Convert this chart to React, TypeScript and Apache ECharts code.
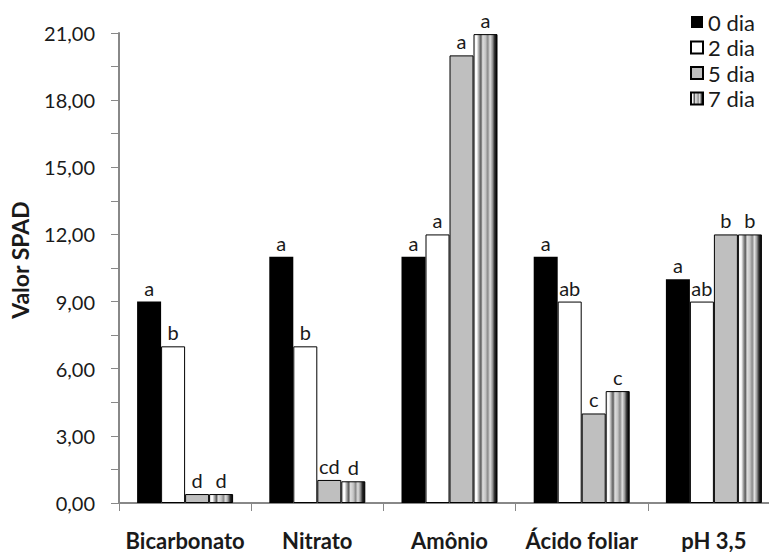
import React, { useEffect, useRef } from "react";
import * as echarts from "echarts";

const categories = ["Bicarbonato", "Nitrato", "Amônio", "Ácido foliar", "pH 3,5"];
const seriesNames = ["0 dia", "2 dia", "5 dia", "7 dia"];
const dia0 = [9, 11, 11, 11, 10];
const dia2 = [7, 7, 12, 9, 9];
const dia5 = [0.4, 1.03, 20, 4, 12];
const dia7 = [0.4, 0.97, 20.95, 5, 12];
const letters0 = ["a", "a", "a", "a", "a"];
const letters2 = ["b", "b", "a", "ab", "ab"];
const letters5 = ["d", "cd", "a", "c", "b"];
const letters7 = ["d", "d", "a", "c", "b"];

const FONT = "Lato, 'Open Sans', sans-serif";

const stripe = new echarts.graphic.LinearGradient(0, 0, 1, 0, [
  { offset: 0, color: "#f2f2f2" },
  { offset: 0.12, color: "#ffffff" },
  { offset: 0.22, color: "#a0a0a0" },
  { offset: 0.3, color: "#5a5a5a" },
  { offset: 0.38, color: "#dedede" },
  { offset: 0.5, color: "#c4c4c4" },
  { offset: 0.6, color: "#8a8a8a" },
  { offset: 0.7, color: "#e0e0e0" },
  { offset: 0.8, color: "#9a9a9a" },
  { offset: 0.9, color: "#2a2a2a" },
  { offset: 1, color: "#000000" },
]);

export default function App() {
  const ref = useRef<HTMLDivElement>(null);
  useEffect(() => {
    if (!ref.current) return;
    const chart = echarts.init(ref.current, undefined, { renderer: "svg" });
    const mk = (
      name: string,
      data: number[],
      letters: string[],
      color: any,
      border: boolean
    ) => ({
      name,
      type: "bar",
      data,
      barWidth: 24,
      barGap: "0%",
      itemStyle: {
        color,
        borderColor: "#000",
        borderWidth: border ? 1 : 0,
      },
      label: {
        show: true,
        position: "top",
        distance: 4,
        fontFamily: FONT,
        fontSize: 20,
        color: "#1a1a1a",
        formatter: (p: any) => letters[p.dataIndex],
      },
    });
    chart.setOption({
      animation: false,
      backgroundColor: "#fff",
      grid: { left: 112, right: 0, top: 33, bottom: 49, containLabel: false },
      legend: {
        orient: "vertical",
        left: 690,
        top: 11,
        padding: 0,
        itemWidth: 12,
        itemHeight: 12,
        itemGap: 3.5,
        icon: "rect",
        data: seriesNames,
        textStyle: { fontFamily: FONT, fontSize: 22, color: "#1a1a1a", padding: [0, 0, 0, 0] },
        selectedMode: false,
      },
      xAxis: {
        type: "category",
        data: categories,
        boundaryGap: true,
        axisLine: { lineStyle: { color: "#888", width: 2 } },
        axisTick: { show: true, length: 8, lineStyle: { color: "#888", width: 1 } },
        axisLabel: {
          fontFamily: FONT,
          fontSize: 22,
          fontWeight: "bold",
          color: "#1a1a1a",
          margin: 26,
          interval: 0,
        },
      },
      yAxis: {
        type: "value",
        min: 0,
        max: 21,
        interval: 3,
        name: "Valor SPAD",
        nameLocation: "middle",
        nameGap: 88,
        nameTextStyle: {
          fontFamily: FONT,
          fontSize: 23,
          fontWeight: "bold",
          color: "#1a1a1a",
          padding: [0, 0, 0, 16],
        },
        axisLine: { show: true, lineStyle: { color: "#888", width: 2 } },
        axisTick: { show: true, length: 8, lineStyle: { color: "#888", width: 1 } },
        minorTick: { show: true, splitNumber: 2, length: 8, lineStyle: { color: "#888", width: 1 } },
        splitLine: { show: false },
        axisLabel: {
          fontFamily: FONT,
          fontSize: 20,
          color: "#1a1a1a",
          margin: 24,
          formatter: (v: number) => v.toFixed(2).replace(".", ","),
        },
      },
      series: [
        mk(seriesNames[0], dia0, letters0, "#000000", false),
        mk(seriesNames[1], dia2, letters2, "#ffffff", true),
        mk(seriesNames[2], dia5, letters5, "#bfbfbf", true),
        mk(seriesNames[3], dia7, letters7, stripe, true),
      ],
    });
    return () => chart.dispose();
  }, []);
  return (
    <div
      style={{
        position: "fixed",
        left: 0,
        top: 0,
        width: 769,
        height: 552,
        overflow: "hidden",
        background: "#fff",
      }}
    >
      <div ref={ref} style={{ width: 780, height: 552 }} />
    </div>
  );
}
